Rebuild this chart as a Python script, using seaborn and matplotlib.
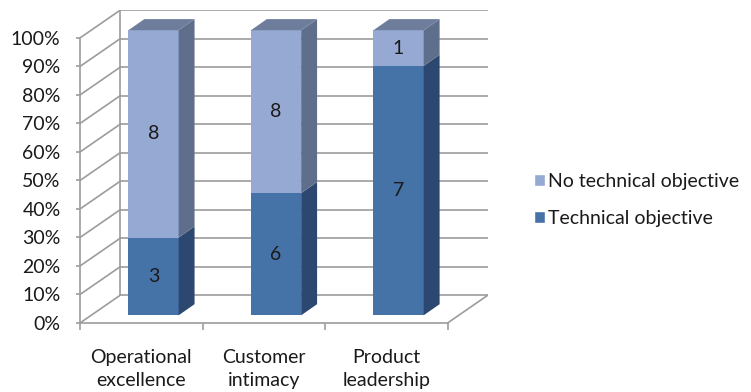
import numpy as np
import matplotlib
matplotlib.use("Agg")
import matplotlib.pyplot as plt
import seaborn as sns
from matplotlib.patches import Polygon, Patch

categories = ["Operational\nexcellence", "Customer\nintimacy", "Product\nleadership"]
technical = [3, 6, 7]
no_technical = [8, 8, 1]
series_names = ["Technical objective", "No technical objective"]
ytick_labels = ["0%", "10%", "20%", "30%", "40%", "50%", "60%", "70%", "80%", "90%", "100%"]

sns.set_theme(style="white")
plt.rcParams["font.family"] = ["Lato", "DejaVu Sans"]

front_dark = "#4572a7"
side_dark = "#2c4770"
front_light = "#95a9d3"
side_light = "#5f6e8b"
top_light = "#6d7d9b"
grid_col = "#9c9c9c"
txt = "#1a1a1a"
fs = 14

# depth of the box and of the bars (in data units)
DX, DY = 0.33, 9.8
BX, BY = 0.10, 2.7
SX, SY = 0.13, 3.9
W = 0.41

fig = plt.figure(figsize=(7.51, 3.92), dpi=100)
ax = fig.add_axes([80 / 751, 69 / 392, 408 / 751, 313 / 392])
ax.set_xlim(-0.5, 2.5 + DX)
ax.set_ylim(0, 100 + DY)

# walls
for t in range(0, 101, 10):
    ax.plot([-0.5 + DX, 2.5 + DX], [t + DY, t + DY], color=grid_col, lw=1.2, zorder=1)
    ax.plot([-0.5, -0.5 + DX], [t, t + DY], color=grid_col, lw=1.2, zorder=1)
ax.plot([-0.5 + DX, -0.5 + DX], [DY, 100 + DY], color=grid_col, lw=1.2, zorder=1)
ax.plot([2.5, 2.5 + DX], [0, DY], color=grid_col, lw=1.2, zorder=1)

tot = np.array(technical) + np.array(no_technical)
p_tech = np.array(technical) / tot * 100
p_no = np.array(no_technical) / tot * 100

for i in range(len(categories)):
    x0 = i + BX - W / 2
    x1 = i + BX + W / 2
    segs = [(BY, BY + p_tech[i], front_dark, side_dark, technical[i]),
            (BY + p_tech[i], BY + 100, front_light, side_light, no_technical[i])]
    for b, t, fc, sc, lab in segs:
        ax.bar(i + BX, t - b, bottom=b, width=W, color=fc, edgecolor="none", zorder=3)
        ax.add_patch(Polygon([(x1, b), (x1 + SX, b + SY), (x1 + SX, t + SY), (x1, t)],
                             closed=True, facecolor=sc, edgecolor="none", zorder=3))
        ax.text(i + BX, (b + t) / 2, str(lab), ha="center", va="center",
                fontsize=fs, color=txt, zorder=4)
    ax.add_patch(Polygon([(x0, BY + 100), (x1, BY + 100), (x1 + SX, BY + 100 + SY), (x0 + SX, BY + 100 + SY)],
                         closed=True, facecolor=top_light, edgecolor="none", zorder=3))

for s in ["top", "right"]:
    ax.spines[s].set_visible(False)
ax.spines["left"].set_bounds(0, 100)
ax.spines["bottom"].set_bounds(-0.5, 2.5)
for s in ["left", "bottom"]:
    ax.spines[s].set_color(grid_col)
    ax.spines[s].set_linewidth(1.2)

ax.set_yticks(range(0, 101, 10))
ax.set_yticklabels(ytick_labels, fontsize=fs, color=txt)
ax.set_xticks([-0.5, 0.5, 1.5, 2.5])
ax.set_xticklabels([])
ax.set_xticks(range(len(categories)), minor=True)
ax.set_xticklabels(categories, minor=True, fontsize=fs, color=txt, linespacing=1.4)
ax.tick_params(axis="y", which="major", left=True, length=3, width=1.2, color=grid_col, pad=11)
ax.tick_params(axis="x", which="major", bottom=True, length=5, width=1.2, color=grid_col)
ax.tick_params(axis="x", which="minor", bottom=False, pad=15)

handles = [Patch(facecolor=front_light, label=series_names[1]),
           Patch(facecolor=front_dark, label=series_names[0])]
fig.legend(handles=handles, loc="center left", bbox_to_anchor=(516 / 751, 1 - 200 / 392),
           frameon=False, fontsize=fs, handlelength=0.57, handleheight=0.57,
           handletextpad=0.2, labelspacing=1.0, labelcolor=txt)

fig.savefig("out.png", dpi=100)
